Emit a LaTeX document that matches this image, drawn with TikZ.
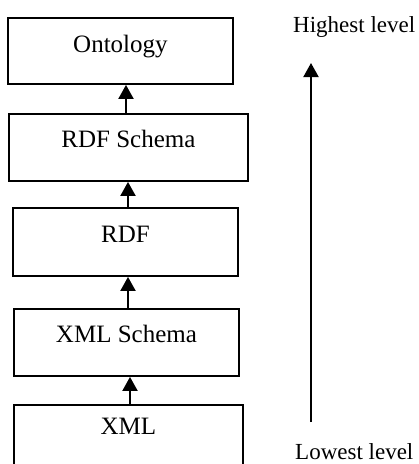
\documentclass[tikz,border=0pt]{standalone}
\usepackage{fontspec}
\setmainfont{Liberation Serif}
\usetikzlibrary{arrows.meta}
\begin{document}
\begin{tikzpicture}[x=1pt,y=-1pt,
  layerbox/.style={draw,line width=1.9pt,inner sep=0pt,anchor=north west,
    font=\fontsize{25}{30}\selectfont},
  sidelabel/.style={anchor=base west,inner sep=0pt,text depth=0pt,font=\fontsize{23}{28}\selectfont},
  uparrow/.style={line width=1.9pt,-{Triangle[length=14pt,width=15pt]}}]
\useasboundingbox (0,0) rectangle (419,464);
\node[layerbox,minimum width=225pt,text height=35pt,text depth=31pt] (onto) at (7,17) {Ontology};
\node[layerbox,minimum width=239pt,text height=34pt,text depth=33pt] (rdfs) at (8,113) {RDF Schema};
\node[layerbox,minimum width=225pt,text height=35pt,text depth=33pt] (rdf) at (12,207) {RDF};
\node[layerbox,minimum width=225pt,text height=34pt,text depth=33pt] (xmls) at (13,308) {XML Schema};
\node[layerbox,minimum width=229pt,text height=30pt,text depth=50pt] (xml) at (13,404) {XML};
\draw[uparrow] (rdfs.north -| 126,0) -- (onto.south -| 126,0);
\draw[uparrow] (rdf.north -| 128,0) -- (rdfs.south -| 128,0);
\draw[uparrow] (xmls.north -| 128,0) -- (rdf.south -| 128,0);
\draw[uparrow] (xml.north -| 130,0) -- (xmls.south -| 130,0);
\node[sidelabel] (high) at (293,32) {Highest level};
\node[sidelabel] (low) at (295,459) {Lowest level};
\coordinate (lowend) at (311,422);
\coordinate (highend) at (311,63);
\draw[uparrow] (lowend) -- (highend);
\end{tikzpicture}
\end{document}
